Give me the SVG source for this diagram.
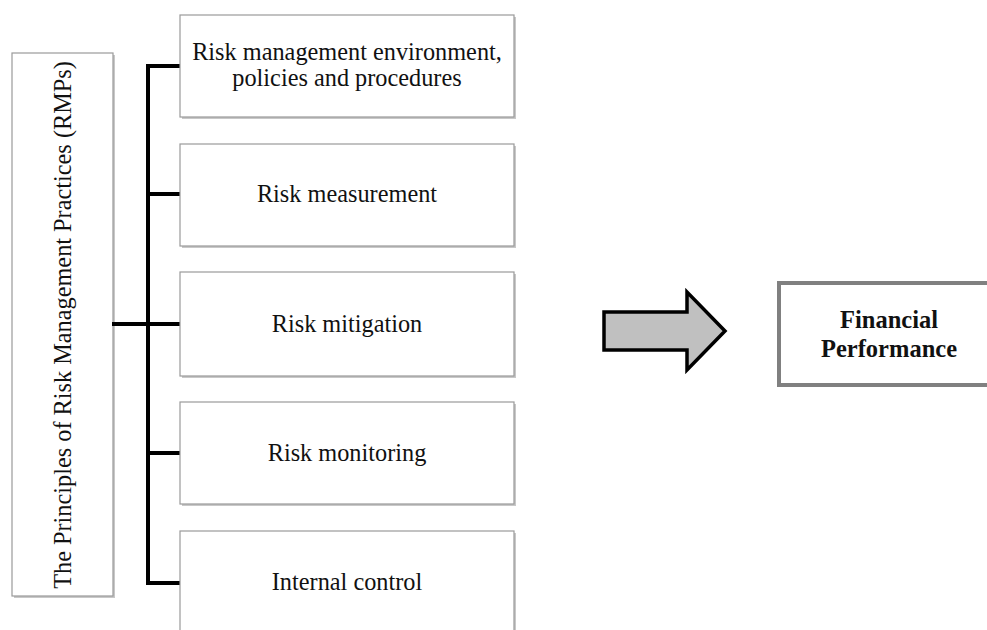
<svg xmlns="http://www.w3.org/2000/svg" width="987" height="630" viewBox="0 0 987 630">
<style>
.box{fill:#fff;stroke:#9a9a9a;stroke-width:1.2}
.sh{fill:#c8c8c8}
.t{font-family:"Liberation Serif","Times New Roman",serif;font-size:24.3px;fill:#111;text-anchor:middle}
.b{font-family:"Liberation Serif","Times New Roman",serif;font-size:24.5px;font-weight:bold;fill:#111;text-anchor:middle}
.ln{stroke:#000;stroke-width:4;fill:none;stroke-linecap:square}
</style>
<rect width="987" height="630" fill="#fff"/>
<g id="rmp">
<rect class="sh" x="14" y="55" width="101" height="543"/>
<rect class="box" x="12" y="53" width="101" height="543"/>
<text class="t" transform="translate(71,325) rotate(-90)" font-size="24.8">The Principles of Risk Management Practices (RMPs)</text>
</g>
<g id="connectors">
<path class="ln" d="M148,66 V583 M148,66 H180 M148,194 H180 M148,324 H180 M148,453 H180 M148,583 H180 M114,324 H148"/>
<path d="M604,312 H687 V292 L725,331 L687,370 V350 H604 Z" fill="#c0c0c0" stroke="#000" stroke-width="3.5" stroke-linejoin="miter"/>
</g>
<g id="n1">
<rect class="sh" x="182" y="17" width="334" height="102"/>
<rect class="box" x="180" y="15" width="334" height="102"/>
<text class="t" x="347" y="60">Risk management environment,</text>
<text class="t" x="347" y="86">policies and procedures</text>
</g>
<g id="n2">
<rect class="sh" x="182" y="146" width="334" height="102"/>
<rect class="box" x="180" y="144" width="334" height="102"/>
<text class="t" x="347" y="202">Risk measurement</text>
</g>
<g id="n3">
<rect class="sh" x="182" y="274" width="334" height="104"/>
<rect class="box" x="180" y="272" width="334" height="104"/>
<text class="t" x="347" y="332">Risk mitigation</text>
</g>
<g id="n4">
<rect class="sh" x="182" y="404" width="334" height="102"/>
<rect class="box" x="180" y="402" width="334" height="102"/>
<text class="t" x="347" y="461">Risk monitoring</text>
</g>
<g id="n5">
<rect class="sh" x="182" y="533" width="334" height="102"/>
<rect class="box" x="180" y="531" width="334" height="102"/>
<text class="t" x="347" y="590">Internal control</text>
</g>
<g id="fp">
<rect x="779" y="283" width="220" height="102" fill="#fff" stroke="#808080" stroke-width="4"/>
<text class="b" x="889" y="328">Financial</text>
<text class="b" x="889" y="357">Performance</text>
</g>
</svg>
